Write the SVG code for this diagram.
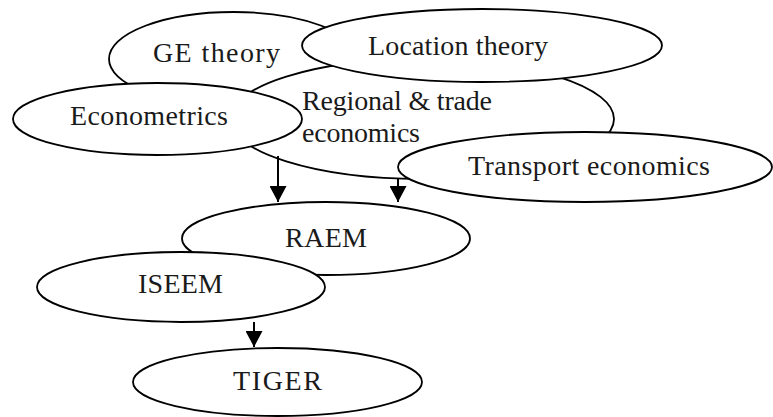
<svg xmlns="http://www.w3.org/2000/svg" width="773" height="417" viewBox="0 0 773 417">
<style>
.n ellipse{fill:#fff;stroke:#000;stroke-width:1.8}
.n text{font-family:"Liberation Serif","Times New Roman",serif;font-size:28px;fill:#1a1a1a}
.c line{stroke:#000;stroke-width:2}
</style>
<defs>
<marker id="ah" markerUnits="userSpaceOnUse" markerWidth="17" markerHeight="17" refX="16" refY="8.5" orient="auto">
<path d="M0,0 L16,8.5 L0,17 z" fill="#000"/>
</marker>
</defs>
<rect width="773" height="417" fill="#fff"/>
<g id="ge" class="n"><ellipse cx="233.5" cy="59" rx="124.5" ry="47"/><text x="153" y="62" textLength="127">GE theory</text></g>
<g id="regional" class="n"><ellipse cx="422" cy="119" rx="192" ry="60"/><text x="302" y="110" textLength="190">Regional &amp; trade</text><text x="302" y="142" textLength="118">economics</text></g>
<g id="location" class="n"><ellipse cx="482" cy="45.5" rx="180" ry="36.5"/><text x="368" y="55" textLength="180">Location theory</text></g>
<g id="econometrics" class="n"><ellipse cx="157.5" cy="119" rx="144.5" ry="36"/><text x="70" y="125" textLength="158">Econometrics</text></g>
<g id="transport" class="n"><ellipse cx="585" cy="167" rx="187" ry="35"/><text x="468" y="175" textLength="242">Transport economics</text></g>
<g id="raem" class="n"><ellipse cx="326" cy="238.5" rx="144" ry="36.5"/><text x="285" y="247" textLength="82">RAEM</text></g>
<g id="iseem" class="n"><ellipse cx="181" cy="287" rx="144" ry="35"/><text x="138" y="293" textLength="85">ISEEM</text></g>
<g id="tiger" class="n"><ellipse cx="277.5" cy="382" rx="144.5" ry="34"/><text x="233" y="390" textLength="89">TIGER</text></g>
<g id="connectors" class="c">
<line x1="278" y1="156" x2="278" y2="202" marker-end="url(#ah)"/>
<line x1="398" y1="179" x2="398" y2="202" marker-end="url(#ah)"/>
<line x1="254" y1="322" x2="254" y2="347" marker-end="url(#ah)"/>
</g>
</svg>
